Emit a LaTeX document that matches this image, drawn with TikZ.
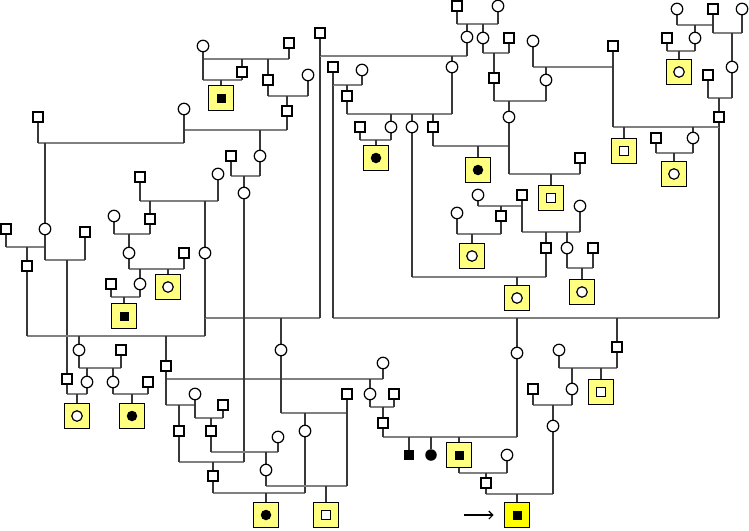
\documentclass[tikz,border=0pt]{standalone}
\usepackage{xcolor}
\usepackage{tikz}
\usetikzlibrary{backgrounds,arrows.meta}

\definecolor{caseyel}{HTML}{FFFF80}
\definecolor{probyel}{HTML}{FFFF00}
\definecolor{hgray}{HTML}{808080}
\definecolor{vgray}{HTML}{383838}

\newcommand{\mating}[4]{%
  \draw[hline] (#1 |- 0,#3) -- (#2 |- 0,#3);
  \draw[vline] (#1) -- (#1 |- 0,#3);
  \draw[vline] (#2) -- (#2 |- 0,#3);
  \foreach \kid in {#4} {\draw[vline] (\kid) -- (\kid |- 0,#3);}
}

\begin{document}
\begin{tikzpicture}[x=1pt, y=-1pt,
    male/.style={draw, fill=white, line width=1.2pt, minimum size=10pt, inner sep=0pt},
    female/.style={circle, draw, fill=white, line width=1.2pt, minimum size=11.5pt, inner sep=0pt},
    bmale/.style={fill=black, minimum size=10pt, inner sep=0pt},
    bfemale/.style={circle, fill=black, minimum size=11.5pt, inner sep=0pt},
    case/.style={draw, fill=caseyel, line width=1.4pt, minimum size=25.5pt, inner sep=0pt},
    proband/.style={case, fill=probyel},
    inbs/.style={fill=black, minimum size=9pt, inner sep=0pt},
    inbc/.style={circle, fill=black, minimum size=10.5pt, inner sep=0pt},
    inws/.style={draw, fill=white, line width=1.2pt, minimum size=9pt, inner sep=0pt},
    inwc/.style={circle, draw, fill=white, line width=1.2pt, minimum size=10.5pt, inner sep=0pt},
    hline/.style={hgray, line width=1.5pt},
    vline/.style={vgray, line width=1.5pt}]
    \useasboundingbox (0,0) rectangle (749,530);

    \node[male] (m1) at (289,43) {};
    \node[male] (m2) at (242,72) {};
    \node[male] (m3) at (268,80) {};
    \node[male] (m4) at (287,111) {};
    \node[male] (m5) at (38,117) {};
    \node[male] (m6) at (231,156) {};
    \node[male] (m7) at (140,177) {};
    \node[male] (m8) at (150,219) {};
    \node[male] (m9) at (184,253) {};
    \node[male] (m10) at (111,284) {};
    \node[male] (m11) at (6,229) {};
    \node[male] (m12) at (85,232) {};
    \node[male] (m13) at (27,266) {};
    \node[male] (m14) at (67,379) {};
    \node[male] (m15) at (121,350) {};
    \node[male] (m16) at (148,382) {};
    \node[male] (m17) at (166,366) {};
    \node[male] (m18) at (179,431) {};
    \node[male] (m19) at (223,405) {};
    \node[male] (m20) at (211,431) {};
    \node[male] (m21) at (213,476) {};
    \node[male] (m22) at (347,394) {};
    \node[male] (m23) at (394,394) {};
    \node[male] (m24) at (383,423) {};
    \node[male] (m25) at (320,33) {};
    \node[male] (m26) at (333,67) {};
    \node[male] (m27) at (347,96) {};
    \node[male] (m28) at (360,127) {};
    \node[male] (m29) at (433,127) {};
    \node[male] (m30) at (457,6) {};
    \node[male] (m31) at (509,38) {};
    \node[male] (m32) at (494,78) {};
    \node[male] (m33) at (613,46) {};
    \node[male] (m34) at (580,158) {};
    \node[male] (m35) at (713,9) {};
    \node[male] (m36) at (667,38) {};
    \node[male] (m37) at (708,75) {};
    \node[male] (m38) at (719,117) {};
    \node[male] (m39) at (656,138) {};
    \node[male] (m40) at (522,195) {};
    \node[male] (m41) at (501,216) {};
    \node[male] (m42) at (546,248) {};
    \node[male] (m43) at (593,248) {};
    \node[male] (m44) at (617,347) {};
    \node[male] (m45) at (533,389) {};
    \node[male] (m46) at (486,483) {};

    \node[female] (f1) at (203,46) {};
    \node[female] (f2) at (308,75) {};
    \node[female] (f3) at (184,109) {};
    \node[female] (f4) at (260,156) {};
    \node[female] (f5) at (218,174) {};
    \node[female] (f6) at (244,193) {};
    \node[female] (f7) at (45,229) {};
    \node[female] (f8) at (114,216) {};
    \node[female] (f9) at (129,253) {};
    \node[female] (f10) at (205,253) {};
    \node[female] (f11) at (140,284) {};
    \node[female] (f12) at (79,350) {};
    \node[female] (f13) at (87,382) {};
    \node[female] (f14) at (113,382) {};
    \node[female] (f15) at (195,394) {};
    \node[female] (f16) at (281,350) {};
    \node[female] (f17) at (278,437) {};
    \node[female] (f18) at (266,470) {};
    \node[female] (f19) at (305,431) {};
    \node[female] (f20) at (383,363) {};
    \node[female] (f21) at (370,394) {};
    \node[female] (f22) at (362,70) {};
    \node[female] (f23) at (467,37) {};
    \node[female] (f24) at (452,67) {};
    \node[female] (f25) at (391,127) {};
    \node[female] (f26) at (412,127) {};
    \node[female] (f27) at (498,6) {};
    \node[female] (f28) at (483,38) {};
    \node[female] (f29) at (533,41) {};
    \node[female] (f30) at (546,80) {};
    \node[female] (f31) at (509,117) {};
    \node[female] (f32) at (677,9) {};
    \node[female] (f33) at (742,9) {};
    \node[female] (f34) at (695,38) {};
    \node[female] (f35) at (732,67) {};
    \node[female] (f36) at (693,138) {};
    \node[female] (f37) at (478,195) {};
    \node[female] (f38) at (457,213) {};
    \node[female] (f39) at (580,206) {};
    \node[female] (f40) at (567,248) {};
    \node[female] (f41) at (517,353) {};
    \node[female] (f42) at (559,350) {};
    \node[female] (f43) at (572,389) {};
    \node[female] (f44) at (553,426) {};
    \node[female] (f45) at (507,455) {};

    \node[bmale] (bm) at (409,455) {};
    \node[bfemale] (bf) at (431,455) {};

    \node[case] (a1) at (221,98) {};   \node[inbs] at (a1) {};
    \node[case] (a2) at (376,158) {};  \node[inbc] at (a2) {};
    \node[case] (a3) at (478,170) {};  \node[inbc] at (a3) {};
    \node[case] (a4) at (551,198) {};  \node[inws] at (a4) {};
    \node[case] (a5) at (624,151) {};  \node[inws] at (a5) {};
    \node[case] (a6) at (679,72) {};   \node[inwc] at (a6) {};
    \node[case] (a7) at (674,174) {};  \node[inwc] at (a7) {};
    \node[case] (a8) at (472,256) {};  \node[inwc] at (a8) {};
    \node[case] (a9) at (517,298) {};  \node[inwc] at (a9) {};
    \node[case] (a10) at (582,292) {}; \node[inwc] at (a10) {};
    \node[case] (a11) at (168,287) {}; \node[inwc] at (a11) {};
    \node[case] (a12) at (124,316) {}; \node[inbs] at (a12) {};
    \node[case] (a13) at (77,416) {};  \node[inwc] at (a13) {};
    \node[case] (a14) at (132,416) {}; \node[inbc] at (a14) {};
    \node[case] (a15) at (266,515) {}; \node[inbc] at (a15) {};
    \node[case] (a16) at (326,515) {}; \node[inws] at (a16) {};
    \node[case] (a17) at (601,392) {}; \node[inws] at (a17) {};
    \node[case] (a18) at (459,455) {}; \node[inbs] at (a18) {};
    \node[proband] (prob) at (517,515) {}; \node[inbs] at (prob) {};

    \coordinate (arr) at (464,515);
    \draw[-{Straight Barb[length=4pt,width=8pt]}, line width=1.1pt, shorten >=10pt] (arr) -- (prob.west);

    \begin{pgfonlayer}{background}
    \mating{f1}{m1}{59}{m2,m3}
    \mating{f1}{m2}{80}{a1}
    \mating{m3}{f2}{96}{m4}
    \mating{f3}{m4}{130}{f4}
    \mating{m5}{f3}{143}{f7}
    \mating{m6}{f4}{176}{f6}
    \mating{m7}{f5}{201}{m8,f10}
    \mating{f8}{m8}{234}{f9}
    \mating{f9}{m9}{269}{f11,a11}
    \mating{m10}{f11}{297}{a12}
    \mating{m11}{f7}{247}{m13}
    \mating{f7}{m12}{260}{m14}
    \mating{m13}{f10}{336}{f12,m17}
    \mating{f10}{m25}{318}{f16}
    \mating{f12}{m15}{368}{f13,f14}
    \mating{m14}{f13}{394}{a13}
    \mating{f14}{m16}{394}{a14}
    \mating{m17}{f20}{379}{f21}
    \mating{m17}{f15}{405}{m18}
    \mating{f15}{m19}{418}{m20}
    \mating{m18}{f6}{462}{m21}
    \mating{m20}{f17}{452}{f18}
    \mating{f16}{m22}{413}{f19}
    \mating{m21}{f19}{493}{a15}
    \mating{f18}{m22}{486}{a16}
    \mating{f21}{m23}{407}{m24}
    \mating{m24}{f41}{437}{bm,bf,a18}
    \mating{m26}{m38}{318}{f41,m44}
    \mating{f42}{m44}{368}{f43,a17}
    \mating{m45}{f43}{405}{f44}
    \mating{a18}{f45}{473}{m46}
    \mating{m46}{f44}{494}{prob}
    \mating{m25}{f23}{56}{f24}
    \mating{m26}{f22}{85}{m27}
    \mating{m27}{f24}{114}{f25,f26,m29}
    \mating{m28}{f25}{140}{a2}
    \mating{m29}{f31}{146}{a3}
    \mating{f31}{m34}{174}{a4}
    \mating{m30}{f27}{24}{f23,f28}
    \mating{f28}{m31}{53}{m32}
    \mating{m32}{f30}{101}{f31}
    \mating{f29}{m33}{67}{f30}
    \mating{f32}{m35}{25}{f34}
    \mating{m35}{f33}{33}{f35}
    \mating{m36}{f34}{51}{a6}
    \mating{m37}{f35}{98}{m38}
    \mating{m33}{m38}{127}{a5,f36}
    \mating{m39}{f36}{153}{a7}
    \mating{f37}{m40}{206}{m41}
    \mating{f38}{m41}{234}{a8}
    \mating{m40}{f39}{232}{m42,f40}
    \mating{f40}{m43}{268}{a10}
    \mating{f26}{m42}{277}{a9}
    \end{pgfonlayer}
\end{tikzpicture}
\end{document}
